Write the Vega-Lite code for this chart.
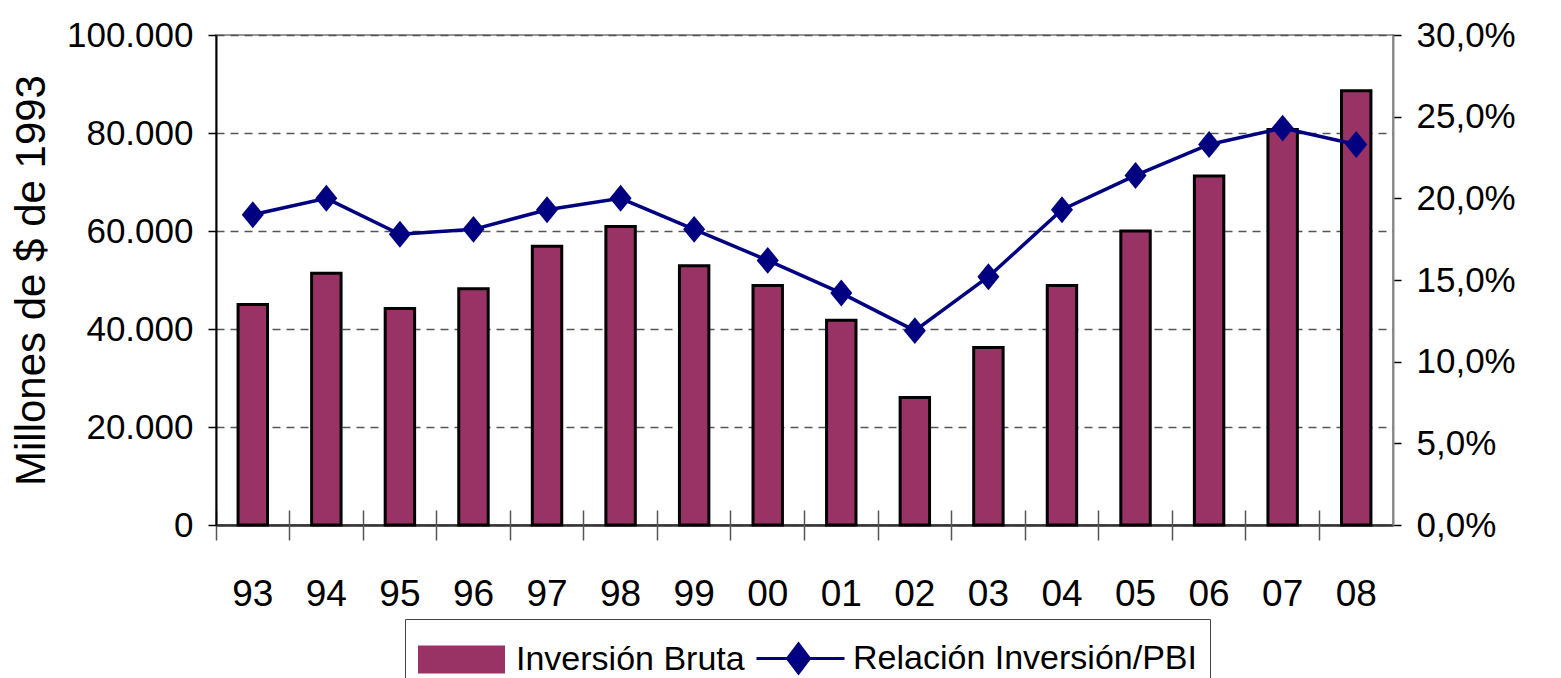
{
  "$schema": "https://vega.github.io/schema/vega-lite/v6.json",
  "width": 1177,
  "height": 490,
  "autosize": {"type": "none"},
  "padding": {"left": 216, "top": 35, "right": 168, "bottom": 153},
  "background": "white",
  "config": {
    "view": {"stroke": "#999999", "strokeWidth": 2},
    "axis": {"labelColor": "#000", "titleColor": "#000", "labelFont": "Liberation Sans", "titleFont": "Liberation Sans"}
  },
  "data": {
    "values": [
      {"anio": "93", "inversion": 45000, "relacion": 19.0},
      {"anio": "94", "inversion": 51400, "relacion": 20.0},
      {"anio": "95", "inversion": 44200, "relacion": 17.8},
      {"anio": "96", "inversion": 48200, "relacion": 18.1},
      {"anio": "97", "inversion": 56900, "relacion": 19.3},
      {"anio": "98", "inversion": 60900, "relacion": 20.0},
      {"anio": "99", "inversion": 52900, "relacion": 18.1},
      {"anio": "00", "inversion": 48900, "relacion": 16.2},
      {"anio": "01", "inversion": 41800, "relacion": 14.2},
      {"anio": "02", "inversion": 26000, "relacion": 11.9},
      {"anio": "03", "inversion": 36200, "relacion": 15.2},
      {"anio": "04", "inversion": 48900, "relacion": 19.3},
      {"anio": "05", "inversion": 60000, "relacion": 21.4},
      {"anio": "06", "inversion": 71200, "relacion": 23.3},
      {"anio": "07", "inversion": 80700, "relacion": 24.3},
      {"anio": "08", "inversion": 88600, "relacion": 23.3}
    ]
  },
  "layer": [
    {
      "mark": {"type": "bar", "stroke": "#000000", "strokeWidth": 3},
      "encoding": {
        "x": {
          "field": "anio", "type": "nominal", "sort": null,
          "scale": {"paddingInner": 0.6, "paddingOuter": 0.3},
          "axis": {
            "title": null, "orient": "bottom", "labelAngle": 0,
            "ticks": false, "tickSize": 0, "domain": true, "domainColor": "#333333", "domainWidth": 2.5,
            "labelFontSize": 37, "labelPadding": 51, "grid": false
          }
        },
        "y": {
          "field": "inversion", "type": "quantitative",
          "scale": {"domain": [0, 100000], "nice": false},
          "axis": {
            "title": "Millones de $ de 1993", "titleFontSize": 42, "titleFontWeight": "normal", "titlePadding": 13,
            "values": [0, 20000, 40000, 60000, 80000, 100000],
            "labelExpr": "replace(format(datum.value, ',.0f'), ',', '.')",
            "labelFontSize": 35, "labelPadding": 15,
            "tickSize": 8, "tickColor": "#000", "tickWidth": 1.5,
            "domainColor": "#000", "domainWidth": 2,
            "grid": true, "gridDash": [8, 6], "gridColor": "#555555", "gridWidth": 1.5
          }
        },
        "color": {
          "datum": "Inversión Bruta",
          "scale": {"domain": ["Inversión Bruta", "Relación Inversión/PBI"], "range": ["#993366", "#000080"]},
          "legend": {
            "title": null, "orient": "none", "legendX": 189, "legendY": 584, "direction": "horizontal",
            "padding": 13, "strokeColor": "#444444", "fillColor": "#ffffff",
            "labelFont": "Liberation Sans", "labelFontSize": 34, "labelColor": "#000", "labelLimit": 0,
            "symbolSize": 2500, "labelOffset": 45, "columnPadding": 5,
            "symbolStrokeWidth": 3,
            "symbolType": {"expr": "datum.value == 'Inversión Bruta' ? 'M-1,-0.5H2.36V0.5H-1Z' : 'M-1,0H2.52M0.68,-0.58L1.12,0L0.68,0.58L0.24,0Z'"},
            "symbolStrokeColor": {"expr": "datum.value == 'Inversión Bruta' ? '#000000' : '#000080'"},
            "symbolFillColor": {"expr": "datum.value == 'Inversión Bruta' ? '#993366' : '#000080'"},
            "symbolOpacity": 1
          }
        }
      }
    },
    {
      "mark": {
        "type": "line", "strokeWidth": 3.5,
        "point": {"shape": "M0,-1.1L0.9,0L0,1.1L-0.9,0Z", "size": 600, "filled": true, "opacity": 1}
      },
      "encoding": {
        "x": {
          "field": "anio", "type": "nominal", "sort": null,
          "axis": {
            "title": null, "orient": "bottom", "offset": -15, "bandPosition": -0.75,
            "labels": false, "domain": false, "ticks": true, "tickSize": 30, "tickColor": "#555555", "tickWidth": 1.5,
            "grid": false
          }
        },
        "y": {
          "field": "relacion", "type": "quantitative",
          "scale": {"domain": [0, 30], "nice": false},
          "axis": {
            "title": null, "orient": "right",
            "values": [0, 5, 10, 15, 20, 25, 30],
            "labelExpr": "replace(format(datum.value, '.1f'), '.', ',') + '%'",
            "labelFontSize": 35, "labelPadding": 15,
            "tickSize": 8, "tickColor": "#000", "tickWidth": 1.5,
            "domainColor": "#888888", "domainWidth": 2, "grid": false
          }
        },
        "color": {"datum": "Relación Inversión/PBI"}
      }
    }
  ],
  "resolve": {"scale": {"y": "independent"}, "axis": {"x": "independent"}}
}
